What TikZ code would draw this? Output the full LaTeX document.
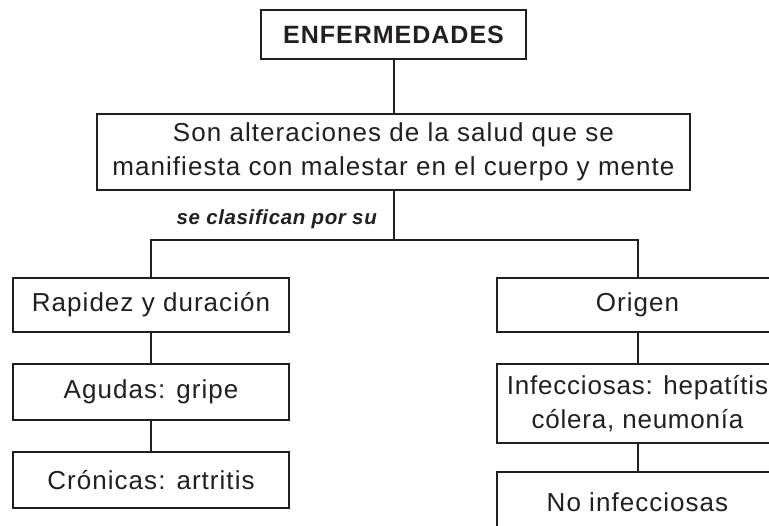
\documentclass[tikz,border=0pt]{standalone}
\usepackage{fontspec}
\setmainfont{Liberation Sans}[LetterSpace=4]
\definecolor{ink}{HTML}{231F20}
\tikzset{
  box/.style={draw=ink, line width=2pt, inner sep=0pt, text=ink,
    font=\fontsize{26}{34}\selectfont, align=center},
  conn/.style={draw=ink, line width=2pt}
}
\begin{document}
\begin{tikzpicture}[x=1pt,y=-1pt]
\useasboundingbox (0,0) rectangle (769,526);
\clip (0,0) rectangle (769,526);
\fill[white] (0,0) rectangle (769,526);
\node[box, minimum width=265pt, minimum height=49pt, font=\fontsize{25}{28}\bfseries\selectfont] (top) at (393.5,34.5) {ENFERMEDADES};
\node[box, minimum width=593pt, minimum height=76pt] (def) at (393.5,152) {Son alteraciones de la salud que se\\manifiesta con malestar en el cuerpo y mente};
\node[anchor=base east, inner sep=0pt, text=ink, font=\fontsize{20.5}{24}\bfseries\itshape\addfontfeatures{LetterSpace=3}\selectfont] (lbl) at (377,225) {se clasifican por su};
\node[box, minimum width=276pt, minimum height=54pt] (rap) at (151,305) {Rapidez y duración};
\node[box, minimum width=276pt, minimum height=56pt] (agu) at (151,392) {Agudas: gripe};
\node[box, minimum width=276pt, minimum height=56pt] (cro) at (151,480) {Crónicas: artritis};
\node[box, minimum width=281pt, minimum height=54pt] (ori) at (637.5,305) {Origen};
\node[box, minimum width=281pt, minimum height=79pt, font=\fontsize{26}{34}\addfontfeatures{LetterSpace=3}\selectfont] (inf) at (637.5,403.5) {Infecciosas: hepatítis\\cólera, neumonía};
\node[box, minimum width=281pt, minimum height=60pt] (noi) at (637.5,502) {No infecciosas};
\coordinate (hub) at (393.5,240);
\coordinate (hl) at (151,240);
\coordinate (hr) at (637.5,240);
\draw[conn] (top.south) -- (def.north);
\draw[conn] (def.south) -- (hub);
\draw[conn] (rap.north) -- (hl) -- (hr) -- (ori.north);
\draw[conn] (rap.south) -- (agu.north);
\draw[conn] (agu.south) -- (cro.north);
\draw[conn] (ori.south) -- (inf.north);
\draw[conn] (inf.south) -- (noi.north);
\end{tikzpicture}
\end{document}
